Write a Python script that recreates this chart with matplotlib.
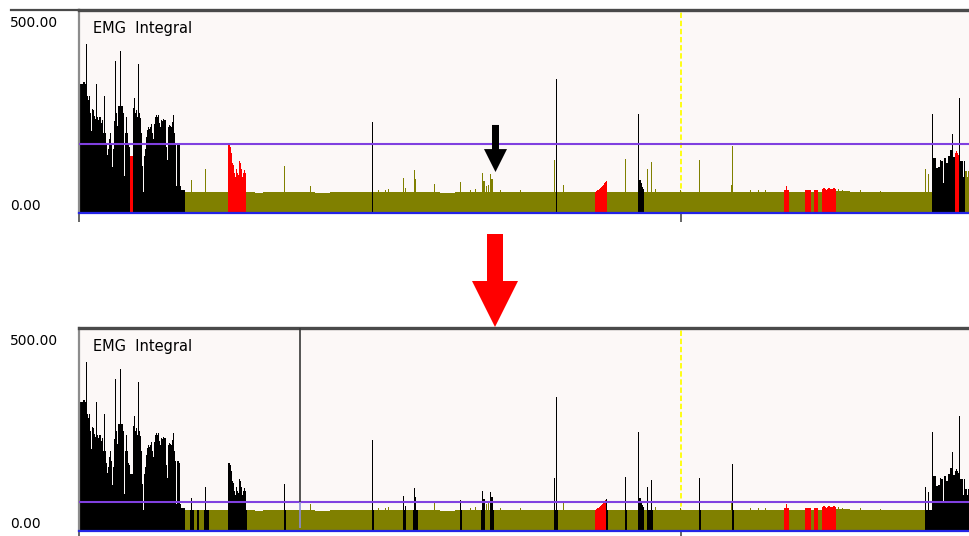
import numpy as np
import matplotlib
matplotlib.use('Agg')
from matplotlib import pyplot as plt
from matplotlib import transforms as mtransforms
from matplotlib.patches import FancyArrow
from matplotlib.lines import Line2D

# EMG integral, one value per sample (sample 0 = left edge of the trace)
N_SAMPLES = 890

# dense burst at the start (samples 0..105)
BURST_START = [320, 320, 320, 320, 325, 325, 320, 421, 291, 280, 291, 250, 205, 259, 255, 241,
               235, 322, 240, 232, 240, 238, 225, 232, 200, 291, 200, 170, 145, 160, 185, 199,
               175, 114, 160, 230, 378, 250, 216, 266, 266, 403, 266, 266, 250, 91, 200, 239,
               200, 170, 165, 143, 143, 143, 260, 287, 250, 257, 240, 370, 250, 237, 200, 116,
               53, 141, 160, 190, 207, 215, 209, 215, 222, 200, 183, 222, 239, 243, 239, 243,
               225, 215, 232, 228, 235, 232, 232, 165, 132, 215, 220, 216, 213, 226, 243, 200,
               174, 66, 174, 174, 170, 66, 58, 58, 58, 58]

# dense burst at the end (samples 853..889)
BURST_END_AT = 853
BURST_END = [247, 137, 137, 137, 112, 112, 115, 115, 132, 130, 130, 75, 137, 137, 125, 125,
             142, 142, 157, 157, 197, 140, 140, 150, 155, 150, 145, 285, 130, 130, 130, 90,
             130, 105, 105, 90, 105]

# resting level between the bursts: (first sample, level)
FLOOR = [(106, 53), (113, 52), (127, 52.5), (167, 53), (176, 50.5), (184, 51.5), (196, 52.5),
         (211, 51.5), (221, 52), (236, 50), (251, 51), (266, 52.5), (281, 51), (294, 52),
         (321, 53), (341, 52), (361, 50.5), (376, 52), (441, 52.5), (478, 51), (528, 52.5),
         (564, 52), (621, 51), (654, 52.5), (711, 52), (757, 54), (771, 52), (821, 53)]

# isolated peaks: (sample, value)
PEAKS = [(112, 82), (126, 110), (205, 118), (231, 66), (293, 226), (299, 58), (306, 56),
         (309, 60), (324, 87), (326, 62), (335, 107), (336, 85), (355, 72), (381, 78),
         (391, 58), (396, 60), (403, 100), (404, 80), (405, 80), (407, 68), (409, 70),
         (411, 98), (412, 85), (413, 85), (421, 58), (441, 56), (475, 131), (477, 334),
         (484, 70), (546, 135), (559, 247), (560, 82), (561, 82), (562, 75), (563, 65),
         (564, 60), (568, 110), (572, 126), (576, 60), (601, 57), (620, 131), (652, 70),
         (653, 166), (671, 56), (679, 56), (686, 56), (759, 60), (763, 58), (781, 56),
         (801, 55), (846, 110), (849, 97)]

# short runs of samples: (first sample, values)
RUNS = [(149, [170, 170, 165, 150, 125, 120, 100, 90, 110, 100, 95, 130, 125, 110, 90, 100, 107, 100]),
        (516, [53, 55, 56, 58, 60, 62, 64, 66, 70, 75, 78, 80]),
        (705, [57, 58, 66, 58, 57]),
        (726, [57, 57, 58, 57, 57, 57]),
        (735, [57, 58, 57, 57]),
        (743, [60, 62, 62, 60, 58, 60, 61, 62, 60, 59, 60, 62, 61, 60])]

# classification of samples, inclusive ranges
TOP_BLACK = [(0, 105), (293, 293), (477, 477), (559, 564), (853, 885)]
TOP_RED = [(51, 53), (149, 166), (516, 527), (705, 709), (726, 731), (735, 738), (743, 756),
           (876, 879)]
BOT_BLACK = [(0, 105), (111, 114), (118, 119), (125, 129), (149, 167), (205, 206), (293, 294),
             (324, 326), (334, 338), (381, 382), (402, 405), (411, 414), (475, 478),
             (527, 528), (546, 547), (559, 564), (568, 573), (620, 621), (653, 654),
             (846, 889)]
BOT_RED = [(516, 526), (705, 709), (726, 731), (735, 738), (743, 756)]

TOP_THRESHOLD = 172
BOT_THRESHOLD = 73
CURSOR_SAMPLE = 601.5
MARKER_SAMPLE = 221.3

OLIVE = '#808000'
RED = '#FF0000'
BLACK = '#000000'

signal = np.zeros(N_SAMPLES)
for i, (start, level) in enumerate(FLOOR):
  stop = FLOOR[i + 1][0] if i + 1 < len(FLOOR) else BURST_END_AT
  signal[start:stop] = level
signal[:len(BURST_START)] = BURST_START
signal[BURST_END_AT:BURST_END_AT + len(BURST_END)] = BURST_END
for s, v in PEAKS:
  signal[s] = v
for start, vals in RUNS:
  signal[start:start + len(vals)] = vals


def colours(black, red):
  c = [OLIVE] * N_SAMPLES
  for a, b in black:
    for i in range(a, b + 1):
      c[i] = BLACK
  for a, b in red:
    for i in range(a, b + 1):
      c[i] = RED
  return c


W, H = 969, 536
fig = plt.figure(figsize=(W / 100, H / 100), dpi=100)
fig.patch.set_facecolor('white')

ax_top = fig.add_axes([79 / W, (H - 213) / H, 890 / W, 203 / H])
ax_bot = fig.add_axes([79 / W, (H - 531) / H, 890 / W, 203 / H])

for ax, black, red, thr in [(ax_top, TOP_BLACK, TOP_RED, TOP_THRESHOLD),
                            (ax_bot, BOT_BLACK, BOT_RED, BOT_THRESHOLD)]:
  ax.set_facecolor('#FCF8F7')
  x = np.arange(N_SAMPLES)
  ax.axvline(CURSOR_SAMPLE, color='#FFFF00', lw=1.3, ls=(0, (3, 1.5)), zorder=0.5)
  ax.bar(x, signal, width=1, align='edge', color=colours(black, red), linewidth=0, zorder=1)
  ax.axhline(thr, color='#8040E0', lw=1.5, zorder=3)
  ax.axhline(0, color='#2424E6', lw=1.6, zorder=4, clip_on=False)
  ax.set_xlim(0, N_SAMPLES)
  ax.set_ylim(0, 505)

  for side in ['right', 'bottom']:
    ax.spines[side].set_visible(False)
  ax.spines['left'].set_color('#8C8C8C')
  ax.spines['left'].set_linewidth(1.6)
  ax.spines['top'].set_color('#4A4A4A')
  ax.spines['top'].set_linewidth(2.4)

  ax.set_xticks([0, CURSOR_SAMPLE])
  ax.tick_params(axis='x', direction='out', length=6.5, width=1.3, color='#5A5A5A',
                 labelbottom=False)
  ax.set_yticks([0, 500], ['0.00', '500.00'])
  ax.tick_params(axis='y', length=0, pad=49.7, labelsize=10)
  lbls = ax.get_yticklabels()
  for lbl in lbls:
    lbl.set_horizontalalignment('left')
  lbls[0].set_verticalalignment('bottom')
  lbls[1].set_verticalalignment('top')
  lbls[1].set_transform(lbls[1].get_transform() + mtransforms.Affine2D().translate(0, -4))

  ax.text(14 / 890, 1 - 11 / 203, 'EMG  Integral', transform=ax.transAxes, fontsize=10.5,
          ha='left', va='top', zorder=6)

# marker line in the lower trace
ax_bot.vlines(MARKER_SAMPLE, BOT_THRESHOLD, 505, color='#383838', lw=1.2, zorder=5)
ax_bot.vlines(MARKER_SAMPLE, 7, BOT_THRESHOLD, color='#8A8AD8', lw=1.2, zorder=5)

# frame line running left of the upper trace
fig.add_artist(Line2D([11 / W, 79 / W], [1 - 9.5 / H] * 2, color='#4A4A4A', lw=1.6))

# black arrow pointing at the small peaks
ax_top.add_patch(FancyArrow(416.5, 219, 0, -117, width=7, head_width=23, head_length=57,
                            length_includes_head=True, color='black', lw=0, zorder=7))

# red arrow between the traces
fig.add_artist(FancyArrow(495 / W, 1 - 234 / H, 0, -(327 - 234) / H, width=16 / W,
                          head_width=46 / W, head_length=46 / H, length_includes_head=True,
                          color=RED, lw=0, transform=fig.transFigure))

fig.savefig('out.png', dpi=100)
